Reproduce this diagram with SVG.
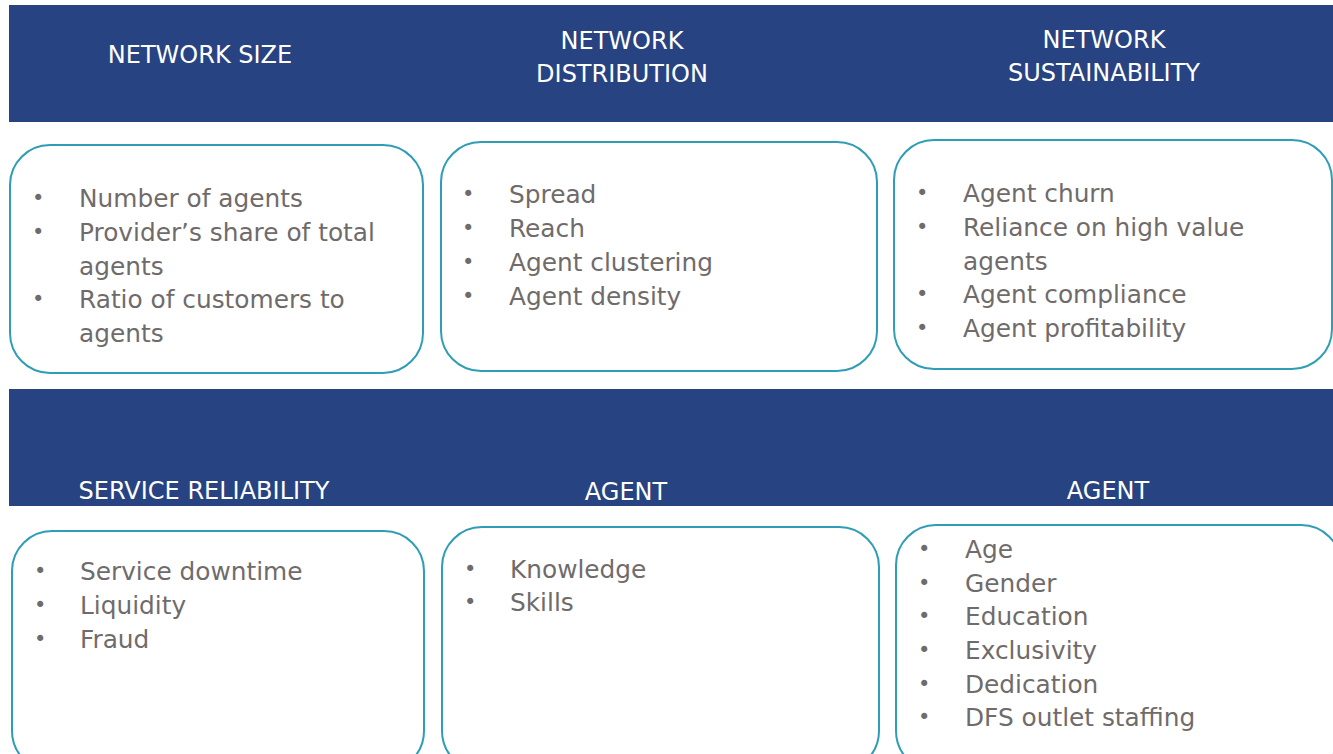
<svg xmlns="http://www.w3.org/2000/svg" width="1333" height="754" viewBox="0 0 1333 754">
<style>
.band{fill:#284381}
.hd{fill:#ffffff;font-family:"DejaVu Sans",sans-serif;font-size:24px;text-anchor:middle}
.box{fill:#ffffff;stroke:#2f9db5;stroke-width:2}
.it{fill:#706b6b;font-family:"DejaVu Sans",sans-serif;font-size:24.8px}
.bl{fill:#706b6b;font-family:"DejaVu Sans",sans-serif;font-size:21px}
</style>
<rect width="1333" height="754" fill="#ffffff"/>
<g id="band-top">
<rect class="band" x="9" y="5" width="1324" height="117"/>
<text class="hd" x="200" y="63">NETWORK SIZE</text>
<text class="hd" x="622" y="49">NETWORK</text>
<text class="hd" x="622" y="82">DISTRIBUTION</text>
<text class="hd" x="1104" y="48">NETWORK</text>
<text class="hd" x="1104" y="81">SUSTAINABILITY</text>
</g>
<g id="band-bottom">
<rect class="band" x="9" y="389" width="1324" height="117"/>
<text class="hd" x="204" y="499">SERVICE RELIABILITY</text>
<text class="hd" x="626" y="500">AGENT</text>
<text class="hd" x="1108" y="499">AGENT</text>
</g>
<g id="box-size">
<rect class="box" x="10" y="145" width="413" height="228" rx="40"/>
<text class="bl" x="32" y="205">•</text><text class="it" x="79" y="207">Number of agents</text>
<text class="bl" x="32" y="239">•</text><text class="it" x="79" y="241">Provider’s share of total</text>
<text class="it" x="79" y="275">agents</text>
<text class="bl" x="32" y="306">•</text><text class="it" x="79" y="308">Ratio of customers to</text>
<text class="it" x="79" y="342">agents</text>
</g>
<g id="box-distribution">
<rect class="box" x="441" y="142" width="436" height="229" rx="40"/>
<text class="bl" x="462" y="201">•</text><text class="it" x="509" y="203">Spread</text>
<text class="bl" x="462" y="235">•</text><text class="it" x="509" y="237">Reach</text>
<text class="bl" x="462" y="269">•</text><text class="it" x="509" y="271">Agent clustering</text>
<text class="bl" x="462" y="303">•</text><text class="it" x="509" y="305">Agent density</text>
</g>
<g id="box-sustainability">
<rect class="box" x="894" y="140" width="438" height="229" rx="40"/>
<text class="bl" x="916" y="200">•</text><text class="it" x="963" y="202">Agent churn</text>
<text class="bl" x="916" y="234">•</text><text class="it" x="963" y="236">Reliance on high value</text>
<text class="it" x="963" y="270">agents</text>
<text class="bl" x="916" y="301">•</text><text class="it" x="963" y="303">Agent compliance</text>
<text class="bl" x="916" y="335">•</text><text class="it" x="963" y="337">Agent profitability</text>
</g>
<g id="box-reliability">
<rect class="box" x="12" y="531" width="412" height="240" rx="40"/>
<text class="bl" x="34" y="578">•</text><text class="it" x="80" y="580">Service downtime</text>
<text class="bl" x="34" y="612">•</text><text class="it" x="80" y="614">Liquidity</text>
<text class="bl" x="34" y="646">•</text><text class="it" x="80" y="648">Fraud</text>
</g>
<g id="box-agent-skills">
<rect class="box" x="442" y="527" width="437" height="244" rx="40"/>
<text class="bl" x="464" y="576">•</text><text class="it" x="510" y="578">Knowledge</text>
<text class="bl" x="464" y="609">•</text><text class="it" x="510" y="611">Skills</text>
</g>
<g id="box-agent-profile">
<rect class="box" x="896" y="525" width="445" height="246" rx="40"/>
<text class="bl" x="918" y="556">•</text><text class="it" x="965" y="558">Age</text>
<text class="bl" x="918" y="590">•</text><text class="it" x="965" y="592">Gender</text>
<text class="bl" x="918" y="623">•</text><text class="it" x="965" y="625">Education</text>
<text class="bl" x="918" y="657">•</text><text class="it" x="965" y="659">Exclusivity</text>
<text class="bl" x="918" y="691">•</text><text class="it" x="965" y="693">Dedication</text>
<text class="bl" x="918" y="724">•</text><text class="it" x="965" y="726">DFS outlet staffing</text>
</g>
<g id="connectors"/>
</svg>
